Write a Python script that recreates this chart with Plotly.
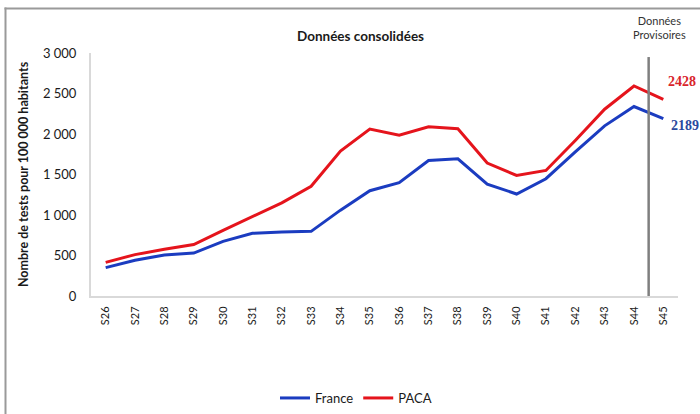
import plotly.graph_objects as go

weeks = ["S26", "S27", "S28", "S29", "S30", "S31", "S32", "S33", "S34", "S35",
         "S36", "S37", "S38", "S39", "S40", "S41", "S42", "S43", "S44", "S45"]
france = [350, 441, 507, 530, 675, 774, 790, 798, 1060, 1300,
          1400, 1673, 1694, 1382, 1259, 1448, 1780, 2101, 2339, 2189]
paca = [415, 511, 577, 635, 810, 985, 1150, 1355, 1790, 2060,
        1986, 2088, 2064, 1641, 1488, 1550, 1920, 2306, 2593, 2428]
ytick_vals = [0, 500, 1000, 1500, 2000, 2500, 3000]
ytick_text = ["0", "500", "1 000", "1 500", "2 000", "2 500", "3 000"]

BLUE = "#1b3cc0"
RED = "#e5141c"
FONT = "Lato"

# plot area in pixels
L, R, T, B = 91, 678, 53, 296
W, H = 700, 414


def px_x(p):
    return (p - L) / (R - L)


def px_y(p):
    return (B - p) / (B - T)


fig = go.Figure()
fig.add_trace(go.Scatter(x=weeks, y=france, mode="lines", name="France",
                         line=dict(color=BLUE, width=3)))
fig.add_trace(go.Scatter(x=weeks, y=paca, mode="lines", name="PACA",
                         line=dict(color=RED, width=3)))

# separator between consolidated and provisional data
fig.add_shape(type="line", xref="x", yref="y", x0=18.5, x1=18.5, y0=0, y1=2950,
              line=dict(color="#7f7f7f", width=2.5))

# outer border (top and left sides visible)
fig.add_shape(type="line", xref="paper", yref="paper",
              x0=px_x(4.5), x1=px_x(W), y0=px_y(8.5), y1=px_y(8.5),
              line=dict(color="#9a9a9a", width=2))
fig.add_shape(type="line", xref="paper", yref="paper",
              x0=px_x(5.5), x1=px_x(5.5), y0=px_y(7.5), y1=px_y(H),
              line=dict(color="#9a9a9a", width=2))


def note(text, x, y, size, color, family=FONT):
    fig.add_annotation(text=text, xref="paper", yref="paper",
                       x=px_x(x), y=px_y(y), xanchor="center", yanchor="middle",
                       showarrow=False, font=dict(family=family, size=size, color=color))


note("<b>Données consolidées</b>", 360, 36, 13.5, "#1a1a1a")
note("Données<br>Provisoires", 659, 28, 11, "#333333")
note("<b>%d</b>" % paca[-1], 682, 81, 14, "#d9252b", "Liberation Serif")
note("<b>%d</b>" % france[-1], 685, 126, 14, "#2b4a9e", "Liberation Serif")

fig.update_layout(
    width=W, height=H,
    margin=dict(l=L, r=W - R, t=T, b=H - B, autoexpand=False),
    paper_bgcolor="white", plot_bgcolor="white",
    font=dict(family=FONT, color="#1a1a1a"),
    showlegend=True,
    legend=dict(orientation="h", xanchor="left", yanchor="middle",
                x=px_x(275), y=px_y(398), font=dict(family=FONT, size=13),
                itemwidth=30, bgcolor="rgba(0,0,0,0)"),
    xaxis=dict(type="category", range=[-0.5, 19.5], tickangle=-90,
               showgrid=False, showline=True, linecolor="#d9d9d9", linewidth=2,
               ticks="", tickfont=dict(family=FONT, size=11, color="#1a1a1a"),
               ticklabelstandoff=4, automargin=False),
    yaxis=dict(range=[0, 3000], tickvals=ytick_vals, ticktext=ytick_text,
               showgrid=False, showline=True, linecolor="#d9d9d9", linewidth=2,
               ticks="", tickfont=dict(family=FONT, size=13, color="#1a1a1a"),
               ticklabelstandoff=10, zeroline=False, automargin=False,
               title=dict(text="<b>Nombre de tests pour 100 000 habitants</b>",
                          font=dict(family=FONT, size=12.5), standoff=12)),
)

fig.write_html("out.html", config={"displayModeBar": False},
               post_script="document.body.style.margin='0';document.body.style.overflow='hidden';")
